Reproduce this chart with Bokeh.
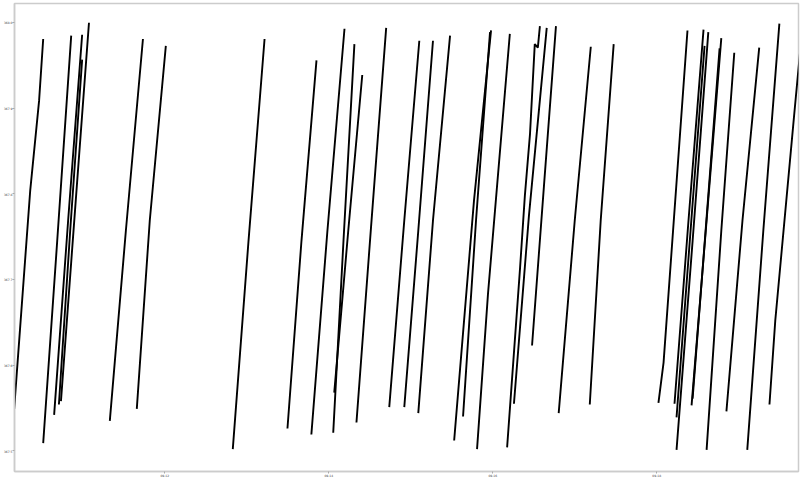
import pandas as pd
from bokeh.plotting import figure
from bokeh.models import Range1d, FixedTicker, DatetimeTickFormatter, NumeralTickFormatter, Label
from bokeh.embed import file_html
from bokeh.resources import INLINE

# each segment: list of capture times and measured values
seg_times = [
    ["2023-09-10 03:54", "2023-09-10 08:36", "2023-09-10 11:12", "2023-09-10 12:24"],
    ["2023-09-10 12:24", "2023-09-10 16:30", "2023-09-10 20:36"],
    ["2023-09-10 15:36", "2023-09-10 19:42", "2023-09-10 23:48"],
    ["2023-09-10 17:00", "2023-09-10 20:18", "2023-09-10 23:48"],
    ["2023-09-10 17:36", "2023-09-10 21:42", "2023-09-11 01:48"],
    ["2023-09-11 07:54", "2023-09-11 12:36", "2023-09-11 17:36"],
    ["2023-09-11 15:48", "2023-09-11 19:36", "2023-09-12 00:18"],
    ["2023-09-12 19:54", "2023-09-13 00:30", "2023-09-13 05:12"],
    ["2023-09-13 11:54", "2023-09-13 16:00", "2023-09-13 20:24"],
    ["2023-09-13 18:54", "2023-09-13 23:36", "2023-09-14 04:36"],
    ["2023-09-14 01:18", "2023-09-14 04:18", "2023-09-14 07:30"],
    ["2023-09-14 01:36", "2023-09-14 05:42", "2023-09-14 09:48"],
    ["2023-09-14 08:06", "2023-09-14 12:24", "2023-09-14 16:48"],
    ["2023-09-14 17:42", "2023-09-14 22:06", "2023-09-15 02:30"],
    ["2023-09-14 22:06", "2023-09-15 02:12", "2023-09-15 06:30"],
    ["2023-09-15 02:12", "2023-09-15 06:30", "2023-09-15 11:30"],
    ["2023-09-15 12:42", "2023-09-15 18:30", "2023-09-15 23:30"],
    ["2023-09-15 15:18", "2023-09-15 19:06", "2023-09-15 23:12"],
    ["2023-09-15 19:24", "2023-09-15 22:36", "2023-09-16 05:00"],
    ["2023-09-16 04:12", "2023-09-16 08:00", "2023-09-16 09:24", "2023-09-16 10:54",
     "2023-09-16 12:18", "2023-09-16 13:12", "2023-09-16 13:48"],
    ["2023-09-16 06:12", "2023-09-16 10:36", "2023-09-16 15:48"],
    ["2023-09-16 11:30", "2023-09-16 15:00", "2023-09-16 18:30"],
    ["2023-09-16 19:18", "2023-09-17 00:00", "2023-09-17 04:42"],
    ["2023-09-17 04:24", "2023-09-17 07:36", "2023-09-17 11:24"],
    ["2023-09-18 00:30", "2023-09-18 02:00", "2023-09-18 09:00"],
    ["2023-09-18 05:12", "2023-09-18 09:18", "2023-09-18 13:42"],
    ["2023-09-18 05:48", "2023-09-18 09:54", "2023-09-18 14:00"],
    ["2023-09-18 05:48", "2023-09-18 10:30", "2023-09-18 15:06"],
    ["2023-09-18 10:12", "2023-09-18 14:36", "2023-09-18 18:54"],
    ["2023-09-18 10:30", "2023-09-18 14:18", "2023-09-18 18:24"],
    ["2023-09-18 14:36", "2023-09-18 18:54", "2023-09-18 22:42"],
    ["2023-09-18 20:24", "2023-09-19 01:06", "2023-09-19 06:00"],
    ["2023-09-19 02:30", "2023-09-19 07:12", "2023-09-19 11:54"],
    ["2023-09-19 09:00", "2023-09-19 10:42", "2023-09-19 16:12", "2023-09-19 18:00"],
]
seg_values = [
    [367.549, 367.804, 367.909, 367.981],
    [367.509, 367.745, 367.985],
    [367.542, 367.769, 367.986],
    [367.554, 367.757, 367.957],
    [367.558, 367.780, 368.000],
    [367.535, 367.757, 367.981],
    [367.549, 367.769, 367.973],
    [367.502, 367.745, 367.981],
    [367.526, 367.745, 367.956],
    [367.519, 367.757, 367.993],
    [367.521, 367.745, 367.975],
    [367.568, 367.757, 367.939],
    [367.533, 367.763, 367.994],
    [367.551, 367.769, 367.979],
    [367.551, 367.757, 367.979],
    [367.544, 367.769, 367.985],
    [367.512, 367.792, 367.991],
    [367.540, 367.769, 367.989],
    [367.502, 367.683, 367.987],
    [367.504, 367.714, 367.798, 367.870, 367.975, 367.971, 367.996],
    [367.555, 367.775, 367.994],
    [367.623, 367.810, 367.996],
    [367.544, 367.769, 367.972],
    [367.554, 367.769, 367.975],
    [367.556, 367.603, 367.991],
    [367.555, 367.769, 367.992],
    [367.539, 367.757, 367.973],
    [367.501, 367.745, 367.989],
    [367.553, 367.769, 367.982],
    [367.561, 367.757, 367.970],
    [367.501, 367.757, 367.965],
    [367.546, 367.769, 367.971],
    [367.501, 367.757, 367.999],
    [367.554, 367.652, 367.891, 367.968],
]
x_tick_dates = ["2023-09-12", "2023-09-14", "2023-09-16", "2023-09-18"]
y_ticks = [367.5, 367.6, 367.7, 367.8, 367.9, 368.0]
x_label = "captureTimestamp"

EPOCH = pd.Timestamp("1970-01-01")
def to_ms(ts):
    return [int((pd.Timestamp(t) - EPOCH) / pd.Timedelta(milliseconds=1)) for t in ts]

xs = [to_ms(t) for t in seg_times]
x0, x1 = to_ms(["2023-09-10 04:00", "2023-09-19 17:30"])
y0, y1 = 367.4758, 368.0225

p = figure(width=800, height=481, x_axis_type="datetime",
           output_backend="svg", toolbar_location=None,
           x_range=Range1d(start=x0, end=x1),
           y_range=Range1d(y0, y1),
           min_border_left=0, min_border_right=2, min_border_top=3, min_border_bottom=10)

p.multi_line(xs=xs, ys=seg_values, line_color="black", line_width=1.9)

p.xaxis.ticker = FixedTicker(ticks=to_ms(x_tick_dates))
fmt = "%m-%d"
p.xaxis.formatter = DatetimeTickFormatter(days=fmt, months=fmt, hours=fmt, hourmin=fmt,
                                          minutes=fmt, minsec=fmt, seconds=fmt, years=fmt)
p.yaxis.ticker = FixedTicker(ticks=y_ticks)
p.yaxis.formatter = NumeralTickFormatter(format="0.0")

for ax in (p.xaxis, p.yaxis):
    ax.major_label_text_font_size = "3px"
    ax.major_label_text_font = "DejaVu Sans"
    ax.major_label_text_color = "#444444"
    ax.major_label_standoff = 0
    ax.axis_line_color = "#cccccc"
    ax.axis_line_width = 1.5
    ax.major_tick_line_color = "#aaaaaa"
    ax.major_tick_out = 2
    ax.major_tick_in = 0
    ax.minor_tick_line_color = None

# x axis title placed just under the tick labels
p.add_layout(Label(x=(x0 + x1) / 2, y=y0, x_offset=0, y_offset=-6, text=x_label,
                   text_font="DejaVu Sans", text_font_size="3px", text_color="#444444",
                   text_align="center", text_baseline="top"))

p.grid.visible = False
p.outline_line_color = "#cccccc"
p.outline_line_width = 1.5
p.background_fill_color = "white"
p.border_fill_color = "white"

open("out.html", "w").write(file_html(p, INLINE))
